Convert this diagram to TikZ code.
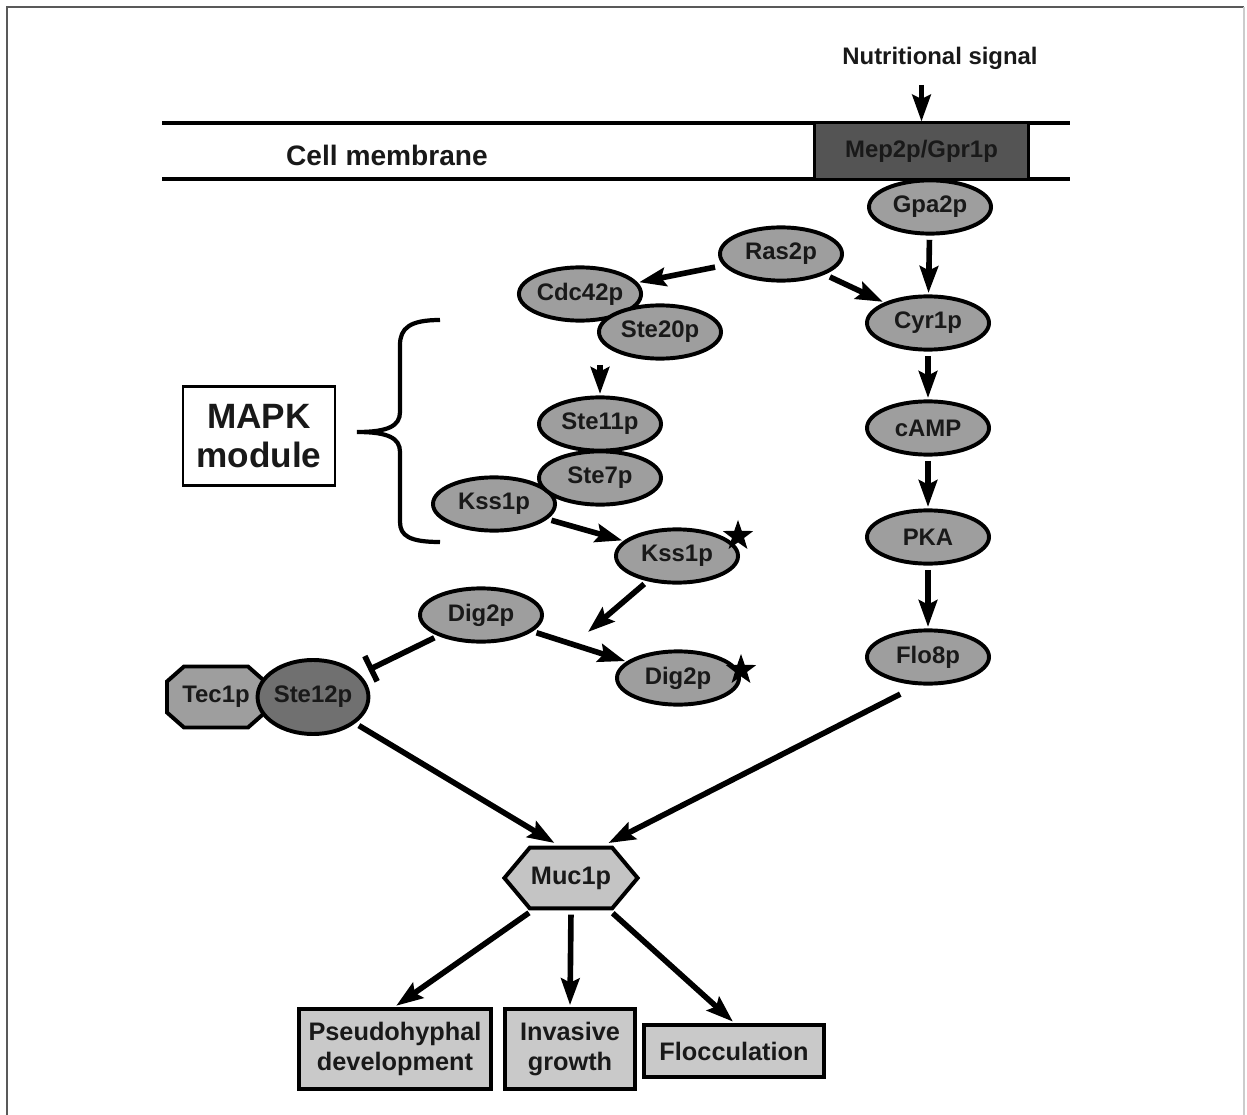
\documentclass[tikz,border=0pt]{standalone}
\usepackage{fontspec}
\setmainfont{Liberation Sans}
\usetikzlibrary{positioning, arrows.meta, calc, shapes.geometric, shapes.symbols}
\definecolor{protgray}{gray}{0.62}
\definecolor{darkprot}{gray}{0.44}
\definecolor{recgray}{gray}{0.33}
\definecolor{lightprot}{gray}{0.77}
\definecolor{outgray}{gray}{0.79}
\definecolor{textdark}{gray}{0.1}

\begin{document}
\begin{tikzpicture}[
  x=0.025cm, y=-0.025cm,
  >={Stealth[length=19pt, width=13pt, inset=3pt]},
  every node/.style={font=\bfseries\fontsize{17}{20}\selectfont, text=textdark},
  prot/.style  = {ellipse, draw, line width=2.8pt, fill=protgray, inner sep=0pt, minimum width=3.05cm, minimum height=1.33cm},
  octline/.style = {draw, line width=2.8pt, fill=protgray, line join=miter},
  hexa/.style  = {signal, signal to=east and west, signal pointer angle=100, draw, line width=2.8pt, fill=lightprot,
                  inner sep=0pt, minimum width=3.33cm, minimum height=1.52cm, font=\bfseries\fontsize{18}{21}\selectfont},
  outbox/.style= {rectangle, draw, line width=3.4pt, fill=outgray, align=center, inner sep=0pt,
                  font=\bfseries\fontsize{18}{21}\selectfont},
  label/.style = {inner sep=1pt},
  starmark/.style = {star, star points=5, star point ratio=2.5, fill=black, draw=none, inner sep=0pt, minimum size=0.8cm},
  arr/.style   = {->, line width=4pt, shorten >=1pt, shorten <=3pt},
  inh/.style   = {-{Bar[width=20pt, line width=4pt]}, line width=4pt, shorten >=7pt, shorten <=3pt},
  memb/.style  = {line width=2.8pt},
]
  \useasboundingbox (0,0) rectangle (1247,1115);
  \draw[gray!70!black, line width=1pt] (7,1115) -- (7,7) -- (1244,7);
  \draw[gray!40, line width=1pt] (1244,7) -- (1244,1115);

  % membrane
  \draw[memb] (162,123) -- (1070,123);
  \draw[memb] (162,179) -- (1070,179);
  \node[rectangle, draw, line width=2pt, fill=recgray, minimum width=5.33cm, minimum height=1.4cm, inner sep=0pt] (mep) at (921.5,151) {Mep2p/Gpr1p};
  \node[label, font=\bfseries\fontsize{20}{24}\selectfont] (cellm) at (387,155) {Cell membrane};
  \node[label] (sig) at (940,58) {Nutritional signal};

  % cAMP branch
  \node[prot] (gpa)  at (930,207) {Gpa2p};
  \node[prot] (ras)  at (781,254) {Ras2p};
  \node[prot] (cyr)  at (928,323) {Cyr1p};
  \node[prot] (camp) at (928,428) {cAMP};
  \node[prot] (pka)  at (928,537) {PKA};
  \node[prot] (flo)  at (928,657) {Flo8p};

  % MAPK branch
  \node[prot] (cdc)   at (580,294) {Cdc42p};
  \node[prot] (ste20) at (660,332) {Ste20p};
  \node[prot] (ste11) at (600,424) {Ste11p};
  \node[prot] (kss)   at (494,504) {Kss1p};
  \node[prot] (ste7)  at (600,478) {Ste7p};
  \node[prot] (kssa)  at (677,556) {Kss1p};
  \node[prot] (dig)   at (481,615) {Dig2p};
  \node[prot] (diga)  at (678,678) {Dig2p};
  \node[starmark] (star1) at (738,536) {};
  \node[starmark] (star2) at (741,670) {};

  \draw[octline] (216,697) ++(-32,-30.5) -- ++(64,0) -- ++(17,15) -- ++(0,31) -- ++(-17,15)
        -- ++(-64,0) -- ++(-17,-15) -- ++(0,-31) -- cycle;
  \node[minimum width=2.45cm, minimum height=1.52cm, inner sep=0pt] (tec) at (216,697) {Tec1p};
  \node[prot, fill=darkprot, minimum width=2.5cm, minimum height=1.85cm] (ste12) at (313,697) {Ste12p};

  \node[hexa] (muc) at (571,878) {Muc1p};

  \node[outbox, minimum width=4.8cm, minimum height=2cm]   (pseudo) at (395,1049) {Pseudohyphal\\development};
  \node[outbox, minimum width=3.25cm, minimum height=2cm]  (inv)    at (570,1049) {Invasive\\growth};
  \node[outbox, minimum width=4.5cm, minimum height=1.3cm] (floc)   at (734,1051) {Flocculation};

  \node[rectangle, draw, line width=1.8pt, fill=white, minimum width=3.8cm, minimum height=2.48cm, align=center,
        font=\bfseries\fontsize{25}{28}\selectfont] (mapk) at (259,436) {MAPK\\module};
  \draw[line width=3pt] (440,320) .. controls (410,320) and (400,328) .. (400,345) -- (400,412)
        .. controls (400,426) and (388,432) .. (357,432) .. controls (388,432) and (400,438) .. (400,452)
        -- (400,522) .. controls (400,536) and (410,542) .. (440,542);

  % connectors
  \draw[arr, shorten <=10pt, shorten >=0pt] (sig.south -| mep.north) -- (mep.north);
  \draw[arr] (gpa) -- (cyr);
  \draw[arr, shorten <=6pt] (ras) -- (cdc);
  \draw[arr, shorten <=4pt] (ras) -- (cyr);
  \draw[arr] (ste11.north |- ste20.south) -- (ste11.north);
  \draw[arr] (cyr) -- (camp);
  \draw[arr] (camp) -- (pka);
  \draw[arr] (pka) -- (flo);
  \draw[arr] (kss) -- (kssa);
  \draw[arr] (dig) -- (diga);
  \coordinate (hit) at (588,632);
  \draw[arr, shorten >=0pt] (kssa) -- (hit);
  \draw[inh] (dig) -- (ste12);
  \draw[arr, shorten >=4pt] (ste12.-32) -- (muc.110);
  \draw[arr, shorten <=14pt, shorten >=4pt] (flo.250) -- (muc.45);
  \draw[arr] (muc.-140) -- (pseudo.north);
  \draw[arr] (muc.south) -- (inv.north);
  \draw[arr] (muc.-40) -- (floc.north);
\end{tikzpicture}
\end{document}
